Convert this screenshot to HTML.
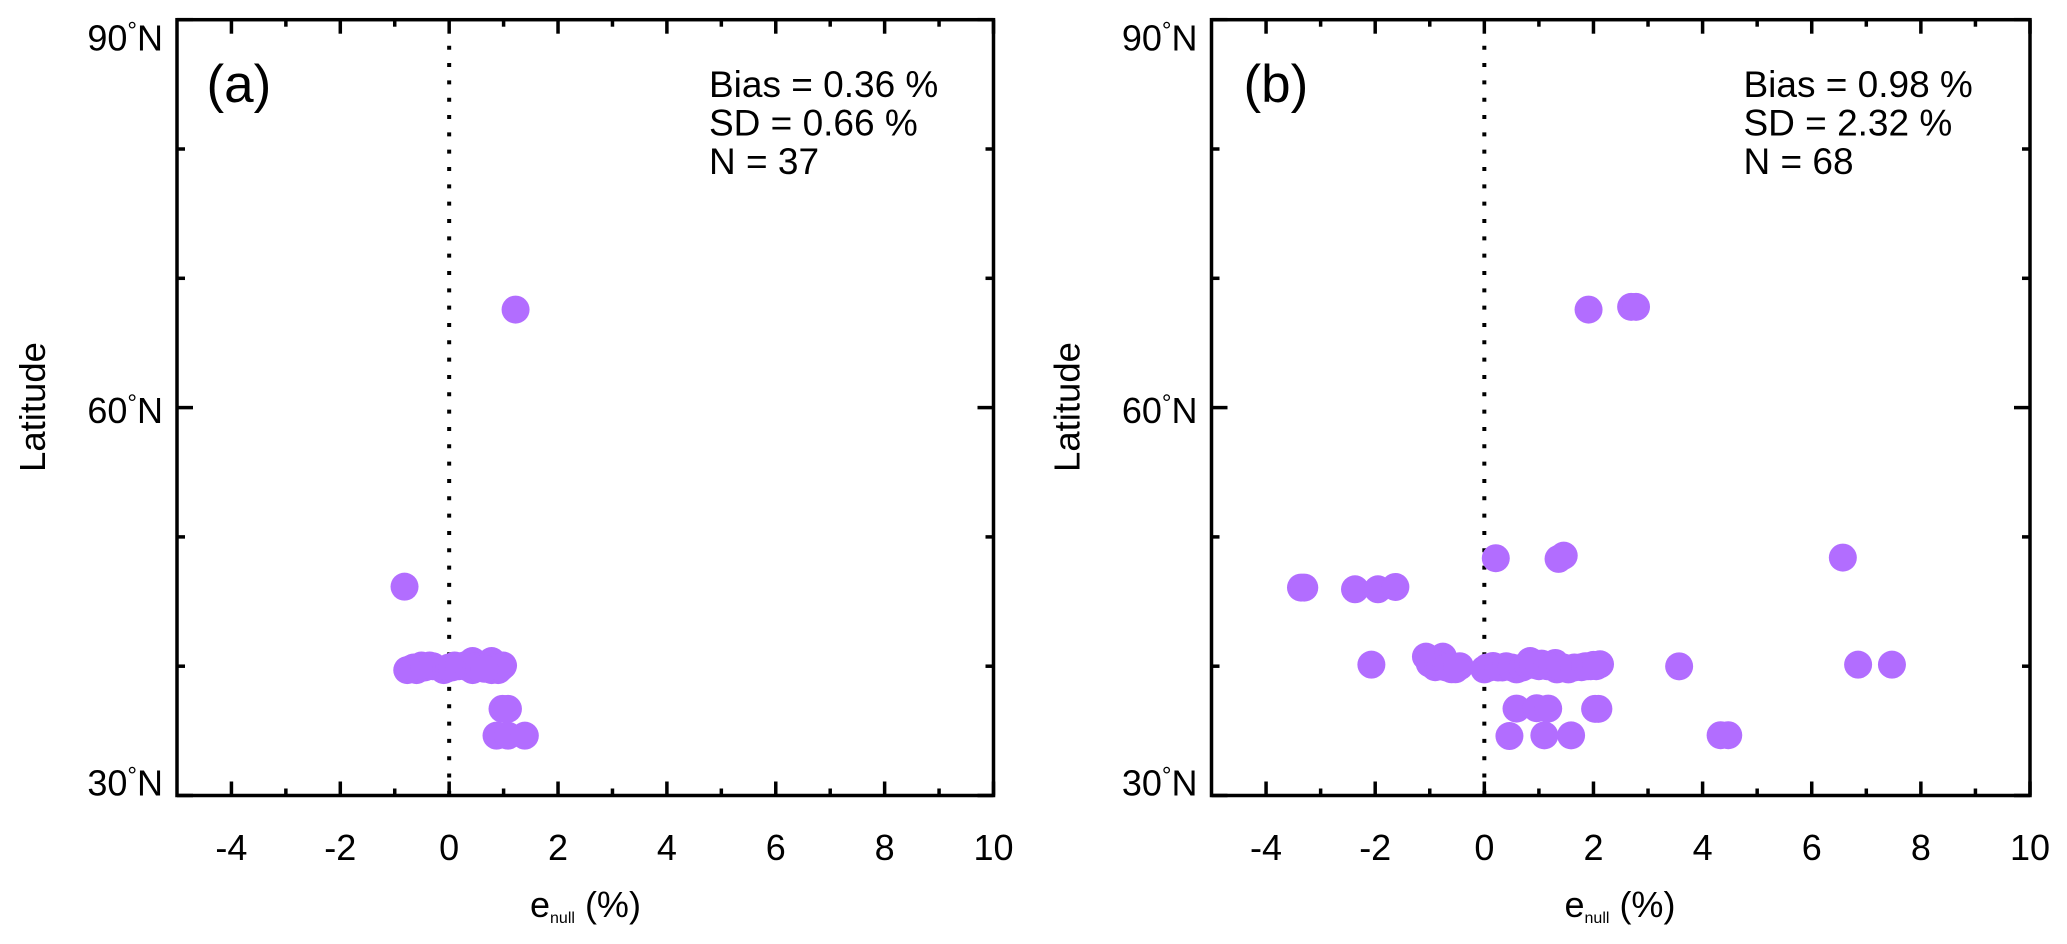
<!DOCTYPE html>
<html lang="en">
<head>
<meta charset="utf-8">
<title>Latitude versus e-null scatter panels</title>
<style>
html,body{margin:0;padding:0;background:#fff;width:2067px;height:944px;overflow:hidden}
svg{display:block;font-family:"Liberation Sans",sans-serif;fill:#000}
</style>
</head>
<body>
<svg id="figure" xmlns="http://www.w3.org/2000/svg" width="2067" height="944" viewBox="0 0 2067 944">
  <rect width="2067" height="944" fill="#ffffff"/>
  <g id="panel-a"></g>
  <g id="panel-b"></g>
</svg>
<script>
const xMajorTicks = [-4, -2, 0, 2, 4, 6, 8, 10];
const xMinorTicks = [-3, -1, 1, 3, 5, 7, 9];
const xTickLabels = ["-4", "-2", "0", "2", "4", "6", "8", "10"];
const latMajorTicks = [30, 60, 90];
const latMinorTicks = [40, 50, 70, 80];
const latTickLabels = ["30", "60", "90"];
const panelATitle = "(a)";
const panelBTitle = "(b)";
const panelAStats = ["Bias = 0.36 %", "SD = 0.66 %", "N = 37"];
const panelBStats = ["Bias = 0.98 %", "SD = 2.32 %", "N = 68"];

const panelAEnull = [1.22, -0.82,
  -0.77, -0.60, -0.51, -0.36, -0.10, 0.10, 0.28, 0.43, 0.43, 0.62, 0.78, 0.78, 0.90, 0.99,
  0.98, 1.08, 0.87, 1.08, 1.39,
  -0.70, -0.65, -0.45, -0.30, -0.05, 0.00, 0.05, 0.18, 0.35, 0.50, 0.55, 0.70, 0.72, 0.85, 0.95, 0.65];
const panelALat = [67.58, 46.15,
  39.7, 39.7, 40.05, 40.05, 39.7, 40.05, 40.05, 40.4, 39.7, 40.05, 40.4, 39.7, 39.7, 40.05,
  36.7, 36.7, 34.63, 34.63, 34.63,
  39.8, 39.9, 39.9, 40.0, 39.8, 39.9, 39.9, 40.0, 39.9, 40.0, 39.9, 39.9, 40.0, 39.9, 39.9, 39.8];

const panelBEnull = [-3.36, -3.30, -2.37, -1.95, -1.63, -2.07,
  0.21, 1.36, 1.455, 1.91, 2.69, 2.78,
  6.57, 3.57, 6.85, 7.47, 4.33, 4.47,
  0.59, 0.96, 1.17, 2.03, 2.09, 0.46, 1.10, 1.59,
  -1.07, -0.76, -0.90, -0.60, -0.45, -0.53, 0.00, 0.16, 0.33, 0.59, 0.84, 1.05, 1.30, 1.33, 1.54, 1.78, 2.00, 2.12,
  -1.00, -0.85, -0.80, -0.70, -0.65, -0.50, 0.05, 0.10, 0.25, 0.40, 0.50, 0.70, 0.80, 0.90, 1.00, 1.15, 1.25, 1.40, 1.45, 1.65, 1.85, 1.90, 1.95, 2.05];
const panelBLat = [46.08, 46.08, 45.95, 45.95, 46.13, 40.12,
  48.35, 48.3, 48.55, 67.58, 67.79, 67.79,
  48.4, 39.99, 40.12, 40.12, 34.66, 34.66,
  36.72, 36.75, 36.72, 36.7, 36.7, 34.6, 34.65, 34.65,
  40.74, 40.74, 39.92, 39.76, 40.0, 39.76, 39.75, 40.02, 39.9, 39.75, 40.4, 40.2, 40.25, 39.75, 39.75, 39.92, 40.1, 40.15,
  40.2, 40.1, 40.0, 39.9, 39.9, 39.9, 39.9, 39.9, 39.9, 40.0, 39.9, 39.9, 40.1, 40.1, 40.0, 40.0, 40.0, 39.9, 39.9, 39.9, 40.0, 40.0, 40.0, 40.0];

const SVGNS = "http://www.w3.org/2000/svg";
const yTop = 19.7, yBottom = 795.5;

function make(tag, attrs, parent, text) {
  const el = document.createElementNS(SVGNS, tag);
  for (const k in attrs) el.setAttribute(k, attrs[k]);
  if (text !== undefined) el.textContent = text;
  parent.appendChild(el);
  return el;
}

function drawPanel(id, left, right, titleX, titleText, stats, enull, lat) {
  const g = document.getElementById(id);
  const xScale = v => left + (v + 5) * (right - left) / 15;
  const yScale = v => yBottom - (v - 30) * (yBottom - yTop) / 60;
  const labelBase = v => 50.5 + (90 - v) * 745 / 60;

  const zero = make("line", {x1: xScale(0), x2: xScale(0), y1: 45.7, y2: yBottom, stroke: "#000", "stroke-width": 4, "stroke-dasharray": "4 13.33"}, g);
  
  

  const points = make("g", {}, g);
  
  
  enull.forEach((v, i) => {
    const c = make("circle", {cx: xScale(v), cy: yScale(lat[i]), r: 14, fill: "#b26dff"}, points);
    
    
  });

  const frame = make("rect", {x: left, y: yTop, width: right - left, height: yBottom - yTop, fill: "none", stroke: "#000", "stroke-width": 3.5}, g);
  
  

  const ticks = make("g", {stroke: "#000", "stroke-width": 3.5}, g);
  
  
  function xTick(v, len) {
    const x = xScale(v);
    const a = make("line", {x1: x, x2: x, y1: yBottom, y2: yBottom - len}, ticks);
    
    
    const b = make("line", {x1: x, x2: x, y1: yTop, y2: yTop + len}, ticks);
    
    
  }
  function yTick(v, len) {
    const y = yScale(v);
    const a = make("line", {x1: left, x2: left + len, y1: y, y2: y}, ticks);
    
    
    const b = make("line", {x1: right, x2: right - len, y1: y, y2: y}, ticks);
    
    
  }
  xMajorTicks.forEach(v => xTick(v, 14));
  xMinorTicks.forEach(v => xTick(v, 7));
  latMajorTicks.forEach(v => yTick(v, 16));
  latMinorTicks.forEach(v => yTick(v, 8));

  xMajorTicks.forEach((v, i) => {
    const t = make("text", {x: xScale(v), y: 860, "font-size": 36, "text-anchor": "middle"}, g, xTickLabels[i]);
    
    
  });
  latMajorTicks.forEach((v, i) => {
    const t = make("text", {x: left - 14, y: labelBase(v), "font-size": 36, "text-anchor": "end"}, g);
    
    
    make("tspan", {}, t, latTickLabels[i]);
    make("tspan", {"font-size": 24, dy: -12}, t, "°");
    make("tspan", {dy: 12}, t, "N");
  });

  const title = make("text", {x: titleX, y: 102, "font-size": 53}, g, titleText);
  
  

  stats.forEach((s, i) => {
    const t = make("text", {x: left + 532, y: 97 + i * 38.5, "font-size": 37}, g, s);
    
    
  });

  const xl = make("text", {x: left + 353, y: 917, "font-size": 36}, g);
  
  
  make("tspan", {}, xl, "e");
  make("tspan", {"font-size": 16, dy: 6}, xl, "null");
  make("tspan", {dy: -6}, xl, " (%)");

  const yl = make("text", {transform: "translate(" + (left - 132) + ",407) rotate(-90)", "font-size": 36.5, "text-anchor": "middle"}, g, "Latitude");
  
  
}

drawPanel("panel-a", 177, 993.5, 206.5, panelATitle, panelAStats, panelAEnull, panelALat);
drawPanel("panel-b", 1211.5, 2030, 1243.5, panelBTitle, panelBStats, panelBEnull, panelBLat);
</script>
</body>
</html>
